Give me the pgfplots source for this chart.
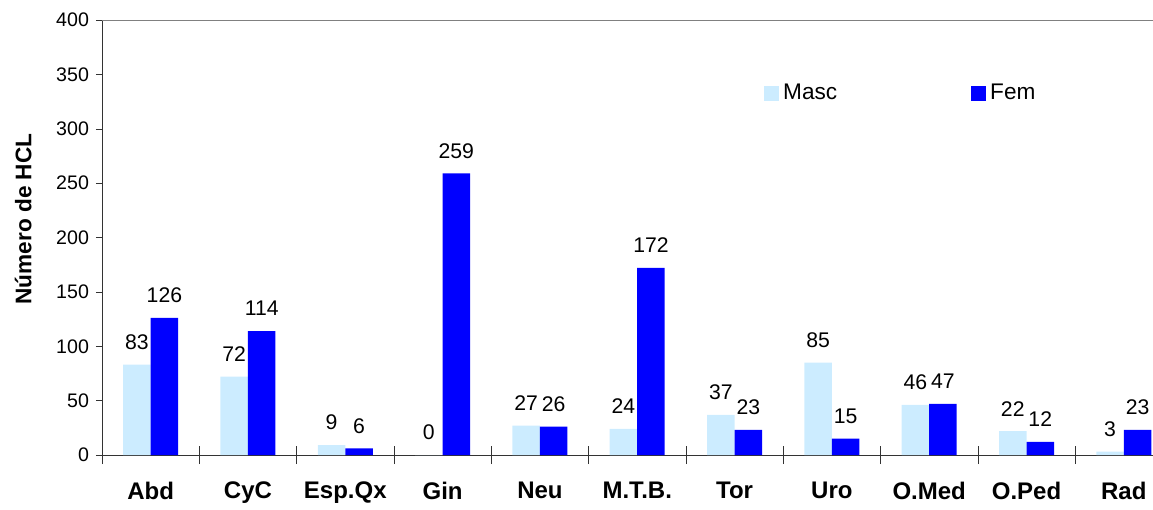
\documentclass[border=0pt]{standalone}
\usepackage{pgfplots}
\pgfplotsset{compat=1.18}
\usepackage{fontspec}
\setmainfont{Liberation Sans}

\definecolor{masc}{RGB}{204,236,255}
\definecolor{fem}{RGB}{0,0,255}

\begin{document}
\begin{tikzpicture}
\begin{axis}[
    name=ax,
    scale only axis,
    width=525.5pt, height=217.5pt,
    ybar=0pt, bar width=13.75pt,
    xmin=-0.5, xmax=10.3,
    ymin=0, ymax=400,
    ytick={0,50,...,400},
    xtick={0,...,10},
    xticklabels={Abd,CyC,Esp.Qx,Gin,Neu,M.T.B.,Tor,Uro,O.Med,O.Ped,Rad},
    minor xtick={-0.5,0.5,...,10.5},
    axis lines*=left,
    axis line style={black!80},
    tick align=outside,
    major tick length=3pt,
    minor tick length=9pt,
    major x tick style={draw=none},
    minor x tick style={yshift=4.5pt, black!80},
    tick style={black!80},
    clip=false,
    /pgf/number format/assume math mode=true,
    yticklabel style={font=\fontsize{9.8}{11}\selectfont},
    xticklabel style={font=\fontsize{12}{14}\selectfont\bfseries, yshift=-7pt},
    ylabel={Número de HCL},
    ylabel style={font=\fontsize{11.3}{13}\selectfont\bfseries, at={(axis description cs:-0.075,0.5425)}, anchor=center},
    nodes near coords,
    every node near coord/.append style={font=\fontsize{10.6}{12}\selectfont, yshift=4pt},
    legend columns=2,
    legend style={draw=none, fill=none, at={(0.624,0.832)}, anchor=west,
        font=\fontsize{11.3}{13}\selectfont,
        /tikz/every even column/.append style={column sep=65pt}},
    legend image code/.code={\fill[#1] (0pt,-3.75pt) rectangle (7.5pt,3.75pt);},
]
\addplot[fill=masc, draw=none] coordinates {
    (0,83) (1,72) (2,9) (3,0) (4,27) (5,24) (6,37) (7,85) (8,46) (9,22) (10,3)
};
\addplot[fill=fem, draw=none] coordinates {
    (0,126) (1,114) (2,6) (3,259) (4,26) (5,172) (6,23) (7,15) (8,47) (9,12) (10,23)
};
\legend{Masc, Fem}
\draw[gray] (rel axis cs:0,1) -- (rel axis cs:1,1);
\end{axis}
\pgfresetboundingbox
\path ([shift={(-51pt,-27pt)}]ax.south west) rectangle ([shift={(0pt,10pt)}]ax.north east);
\end{tikzpicture}
\end{document}
